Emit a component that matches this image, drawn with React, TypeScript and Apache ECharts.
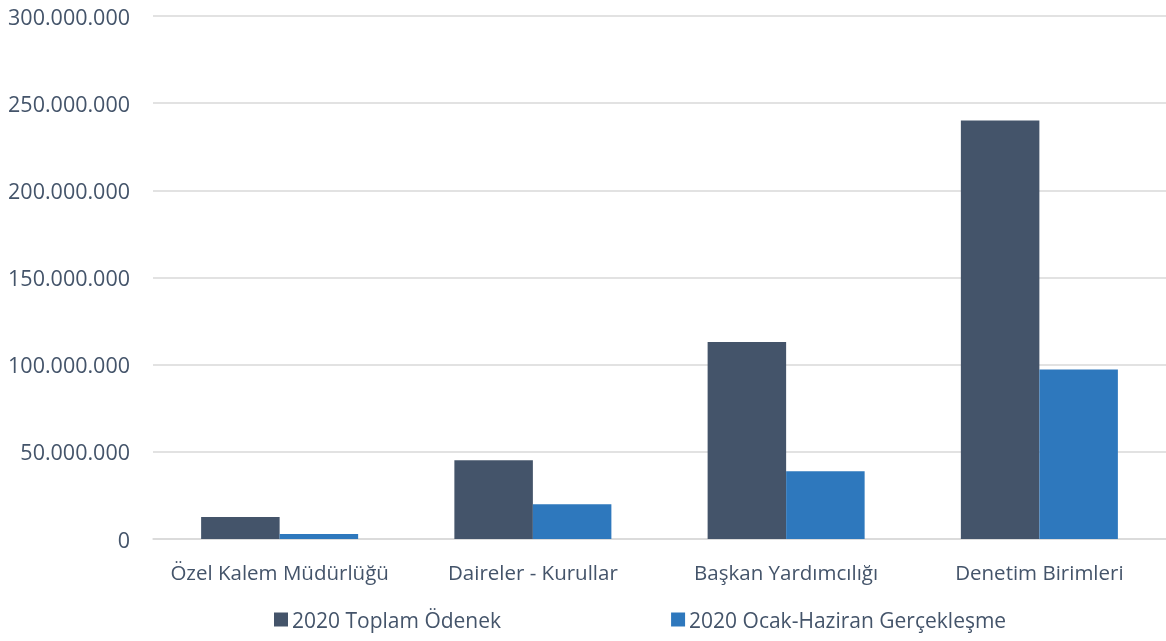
import React, { useEffect, useRef } from "react";
import * as echarts from "echarts";

const categories = ["Özel Kalem Müdürlüğü", "Daireler - Kurullar", "Başkan Yardımcılığı", "Denetim Birimleri"];
const seriesNames = ["2020 Toplam Ödenek", "2020 Ocak-Haziran Gerçekleşme"];
const toplamOdenek = [12600000, 45200000, 113000000, 240000000];
const gerceklesme = [2900000, 20000000, 38800000, 97200000];
const colors = ["#44546A", "#2E78BD"];

const fmt = (v: number) => String(Math.round(v)).replace(/\B(?=(\d{3})+(?!\d))/g, ".");

export default function App() {
  const ref = useRef<HTMLDivElement>(null);
  useEffect(() => {
    if (!ref.current) return;
    const chart = echarts.init(ref.current, null, { renderer: "svg" });
    const textColor = "#44546A";
    const font = "'Open Sans', sans-serif";
    chart.setOption({
      animation: false,
      color: colors,
      textStyle: { fontFamily: font },
      grid: { left: 153, right: 0, top: 16, bottom: 102, containLabel: false },
      legend: {
        bottom: 6,
        left: 269,
        itemGap: 170,
        itemWidth: 14,
        itemHeight: 14,
        icon: "rect",
        textStyle: { fontSize: 21, color: textColor, fontFamily: font, padding: [0, 0, 0, -1] },
        data: seriesNames,
      },
      xAxis: {
        type: "category",
        data: categories,
        axisLine: { lineStyle: { color: "#D9D9D9", width: 1.5 } },
        axisTick: { show: false },
        axisLabel: { fontSize: 20.5, color: textColor, margin: 22, fontFamily: font, interval: 0 },
      },
      yAxis: {
        type: "value",
        min: 0,
        max: 300000000,
        interval: 50000000,
        axisLine: { show: false },
        axisTick: { show: false },
        splitLine: { lineStyle: { color: "#D9D9D9", width: 1.5 } },
        axisLabel: { fontSize: 21.5, color: textColor, margin: 23, fontFamily: font, formatter: fmt },
      },
      series: [
        {
          name: seriesNames[0],
          type: "bar",
          data: toplamOdenek,
          barGap: "0%",
          barCategoryGap: "38%",
          itemStyle: { color: colors[0] },
        },
        {
          name: seriesNames[1],
          type: "bar",
          data: gerceklesme,
          barGap: "0%",
          barCategoryGap: "38%",
          itemStyle: { color: colors[1] },
        },
      ],
    });
    return () => chart.dispose();
  }, []);
  return <div ref={ref} style={{ position: "fixed", left: 0, top: 0, width: 1166, height: 641 }} />;
}
